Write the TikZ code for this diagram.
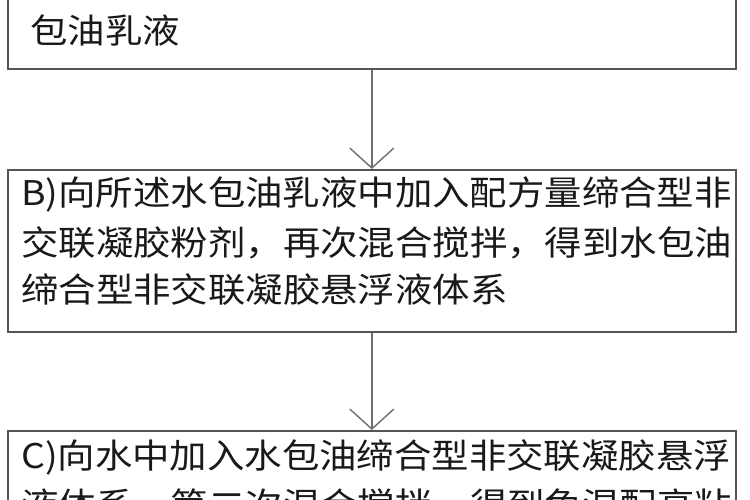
\documentclass[tikz,border=0pt]{standalone}
\usepackage{fontspec}
\newfontfamily\cjk[FakeStretch=1.1]{Noto Sans CJK SC}
\usetikzlibrary{arrows.meta}
\definecolor{edge}{RGB}{85,85,85}
\definecolor{arrowc}{RGB}{110,110,110}
\definecolor{ink}{RGB}{25,25,25}
\tikzset{
  box/.style={draw=edge, line width=1.6bp, rectangle, inner sep=0pt, minimum width=728bp},
  txt/.style={anchor=west, inner sep=0pt, text=ink, font=\cjk\fontsize{34bp}{48bp}\selectfont},
  flow/.style={draw=arrowc, line width=1.4bp, -{Straight Barb[length=20bp,width=44bp,line width=1.4bp]}}
}
\begin{document}
\begin{tikzpicture}[x=1bp,y=-1bp]
\useasboundingbox (0,0) rectangle (750,500);
\fill[white] (0,0) rectangle (750,500);
\clip (0,0) rectangle (750,500);
% boxes
\node[box, minimum height=120bp, anchor=south west] (A) at (7,70) {};
\node[box, minimum height=162bp, anchor=north west] (B) at (7,169) {};
\node[box, minimum height=150bp, anchor=north west] (C) at (7,430) {};
% texts
\node[txt] (a2) at (30,30) {包油乳液};
\node[txt] (b1) at (21,194) {B)向所述水包油乳液中加入配方量缔合型非};
\node[txt] (b2) at (21,243) {交联凝胶粉剂，再次混合搅拌，得到水包油};
\node[txt] (b3) at (21,290) {缔合型非交联凝胶悬浮液体系};
\node[txt] (c1) at (21,457) {C)向水中加入水包油缔合型非交联凝胶悬浮};
\node[txt] (c2) at (21,505) {液体系，第二次混合搅拌，得到免混配高粘};
% connectors
\draw[flow] (A.south) -- (B.north);
\draw[flow] (B.south) -- (C.north);
\end{tikzpicture}
\end{document}
